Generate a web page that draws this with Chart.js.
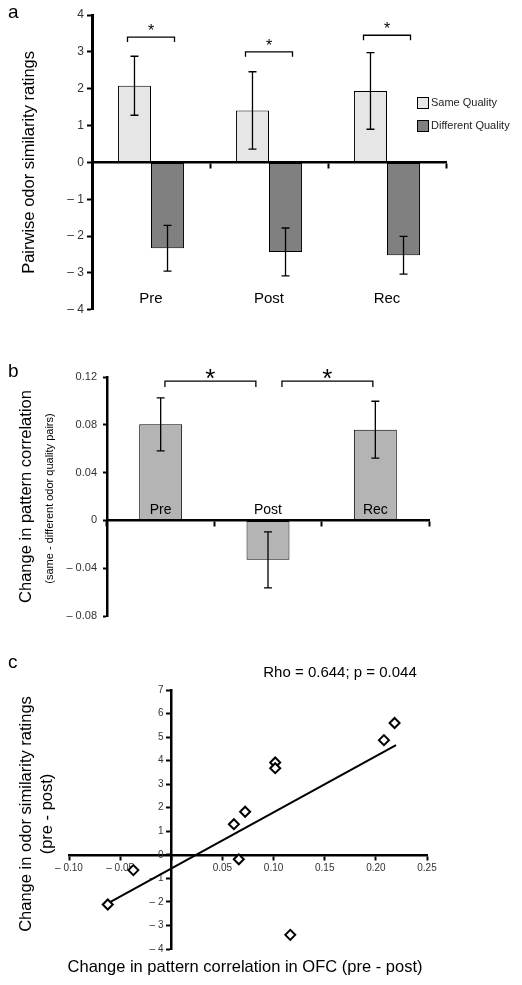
<!DOCTYPE html>
<html>
<head>
<meta charset="utf-8">
<script src="https://cdn.jsdelivr.net/npm/chart.js@4.4.1/dist/chart.umd.min.js"></script>
<style>
  body { margin: 0; background: #fff; }
  canvas { position: absolute; left: 0; }
</style>
</head>
<body>
<canvas id="chart-a" width="522" height="320" style="top:0"></canvas>
<canvas id="chart-b" width="522" height="300" style="top:330px"></canvas>
<canvas id="chart-c" width="522" height="355" style="top:630px"></canvas>
<script>
// panel a - similarity ratings
var groupsA = ["Pre", "Post", "Rec"];
var sameA = [2.08, 1.41, 1.94];
var sameErrA = [0.80, 1.05, 1.04];
var diffA = [-2.33, -2.43, -2.52];
var diffErrA = [0.62, 0.65, 0.51];
var sigA = [3.4, 3.0, 3.45];

// panel b - pattern correlation
var groupsB = ["Pre", "Post", "Rec"];
var corrB = [0.0804, -0.033, 0.0759];
var corrErrB = [0.0222, 0.0234, 0.0238];

// panel c - scatter
var ofcX = [-0.0621, -0.0371, 0.0612, 0.0722, 0.066, 0.1016, 0.1016, 0.1163, 0.2079, 0.2183];
var ratingY = [-2.11, -0.65, 1.30, 1.83, -0.19, 3.92, 3.68, -3.40, 4.87, 5.60];
var fitX = [-0.0621, 0.2197];
var fitY = [-2.06, 4.66];

Chart.defaults.font.family = "'Liberation Sans', Arial, sans-serif";
Chart.defaults.color = "#333";

function fmt(v, d) {
  if (Math.abs(v) < 1e-9) return "0";
  var s = Math.abs(v).toFixed(d);
  return v < 0 ? "\u2013 " + s : s;
}

function text(ctx, str, x, y, size, opts) {
  opts = opts || {};
  ctx.save();
  ctx.font = size + "px 'Liberation Sans', Arial, sans-serif";
  ctx.fillStyle = opts.color || "#000";
  ctx.textAlign = opts.align || "center";
  ctx.textBaseline = opts.baseline || "middle";
  ctx.translate(x, y);
  if (opts.rotate) ctx.rotate(-Math.PI / 2);
  ctx.fillText(str, 0, 0);
  ctx.restore();
}

function bracket(ctx, x1, x2, y, drop) {
  ctx.beginPath();
  ctx.moveTo(x1, y + drop);
  ctx.lineTo(x1, y);
  ctx.lineTo(x2, y);
  ctx.lineTo(x2, y + drop);
  ctx.stroke();
}

function errorBars(errs) {
  return {
    id: "errorBars",
    afterDatasetsDraw: function (chart) {
      var ctx = chart.ctx, y = chart.scales.y;
      ctx.save();
      ctx.strokeStyle = "#000";
      ctx.lineWidth = 1.3;
      chart.data.datasets.forEach(function (ds, di) {
        var meta = chart.getDatasetMeta(di);
        meta.data.forEach(function (bar, i) {
          var v = ds.data[i], e = errs[di][i];
          var top = y.getPixelForValue(v + e), bot = y.getPixelForValue(v - e);
          ctx.beginPath();
          ctx.moveTo(bar.x, top); ctx.lineTo(bar.x, bot);
          ctx.moveTo(bar.x - 4, top); ctx.lineTo(bar.x + 4, top);
          ctx.moveTo(bar.x - 4, bot); ctx.lineTo(bar.x + 4, bot);
          ctx.stroke();
        });
      });
      ctx.restore();
    }
  };
}

var ctx = document.getElementById("chart-a").getContext("2d");
var chartA = new Chart(ctx, {
  type: "bar",
  data: {
    labels: groupsA,
    datasets: [
      {
        label: "Same Quality",
        data: sameA,
        backgroundColor: "#e6e6e6",
        borderColor: "#000",
        borderWidth: 1,
        borderSkipped: false
      },
      {
        label: "Different Quality",
        data: diffA,
        backgroundColor: "#808080",
        borderColor: "#000",
        borderWidth: 1,
        borderSkipped: false
      }
    ]
  },
  options: {
    responsive: false,
    animation: false,
    layout: { padding: { left: 0, top: 15, right: 76, bottom: 7 } },
    plugins: { legend: { display: false }, tooltip: { enabled: false } },
    categoryPercentage: 0.56,
    barPercentage: 1,
    scales: {
      x: {
        type: "category",
        position: { y: 0 },
        offset: true,
        afterFit: function (s) { s.height = 0; },
        ticks: { display: false },
        grid: { offset: true, drawOnChartArea: false, tickLength: 5, tickWidth: 2, tickColor: "#000" },
        border: { color: "#000", width: 2.5 }
      },
      y: {
        min: -4,
        max: 4,
        afterFit: function (s) { s.width = 92; },
        ticks: { stepSize: 1, padding: 3, font: { size: 12 }, callback: function (v) { return fmt(v, 0); } },
        grid: { drawOnChartArea: false, tickLength: 5, tickWidth: 2, tickColor: "#000" },
        border: { color: "#000", width: 3 },
        title: {
          display: true,
          text: "Pairwise odor similarity ratings",
          color: "#000",
          font: { size: 16.5 },
          padding: { top: 20, bottom: 0 }
        }
      }
    }
  },
  plugins: [errorBars([sameErrA, diffErrA]), {
    id: "notesA",
    afterDraw: function (chart) {
      var c = chart.ctx, x = chart.scales.x, y = chart.scales.y;
      c.save();
      c.strokeStyle = "#000";
      c.lineWidth = 1.3;
      groupsA.forEach(function (g, i) {
        var cx = x.getPixelForValue(i);
        text(c, g, cx, y.getPixelForValue(-3.7), 15);
        var by = y.getPixelForValue(sigA[i]);
        bracket(c, cx - 23.5, cx + 23.5, by, 5);
        text(c, "*", cx, by - 1, 16, { baseline: "alphabetic" });
      });
      // legend
      chart.data.datasets.forEach(function (ds, i) {
        var ly = 97 + i * 23;
        c.fillStyle = ds.backgroundColor;
        c.fillRect(417, ly, 11, 11);
        c.lineWidth = 1;
        c.strokeRect(417.5, ly + 0.5, 11, 11);
        text(c, ds.label, 431, ly + 6, 11, { align: "left", color: "#222" });
      });
      c.restore();
      text(c, "a", 8, 13, 19, { align: "left" });
    }
  }]
});

var ctx = document.getElementById("chart-b").getContext("2d");
var chartB = new Chart(ctx, {
  type: "bar",
  data: {
    labels: groupsB,
    datasets: [
      {
        label: "Change in pattern correlation",
        data: corrB,
        backgroundColor: "#b4b4b4",
        borderColor: "#000",
        borderWidth: 1,
        borderSkipped: false
      }
    ]
  },
  options: {
    responsive: false,
    animation: false,
    layout: { padding: { left: 0, top: 47, right: 93, bottom: 14 } },
    plugins: { legend: { display: false }, tooltip: { enabled: false } },
    categoryPercentage: 0.4,
    barPercentage: 1,
    scales: {
      x: {
        type: "category",
        position: { y: 0 },
        offset: true,
        afterFit: function (s) { s.height = 0; },
        ticks: { display: false },
        grid: { offset: true, drawOnChartArea: false, tickLength: 5, tickWidth: 2, tickColor: "#000" },
        border: { color: "#000", width: 2.5 }
      },
      y: {
        min: -0.08,
        max: 0.12,
        afterFit: function (s) { s.width = 107; },
        ticks: { stepSize: 0.04, padding: 6, font: { size: 11 }, callback: function (v) { return fmt(v, 2); } },
        grid: { drawOnChartArea: false, tickLength: 4, tickWidth: 2, tickColor: "#000" },
        border: { color: "#000", width: 2.5 },
        title: {
          display: true,
          text: "Change in pattern correlation",
          color: "#000",
          font: { size: 16.5 },
          padding: { top: 17, bottom: 0 }
        }
      }
    }
  },
  plugins: [errorBars([corrErrB]), {
    id: "notesB",
    afterDraw: function (chart) {
      var c = chart.ctx, x = chart.scales.x, y = chart.scales.y;
      var zero = y.getPixelForValue(0);
      groupsB.forEach(function (g, i) {
        text(c, g, x.getPixelForValue(i), zero - 10, 14);
      });
      c.save();
      c.strokeStyle = "#000";
      c.lineWidth = 1.3;
      var by = y.getPixelForValue(0.1166);
      [[0.04, 0.887], [1.13, 1.977]].forEach(function (b) {
        var x1 = x.getPixelForValue(b[0]), x2 = x.getPixelForValue(b[1]);
        bracket(c, x1, x2, by, 6);
        text(c, "*", (x1 + x2) / 2, by + 6, 26, { baseline: "alphabetic" });
      });
      c.restore();
      var mid = (chart.chartArea.top + chart.chartArea.bottom) / 2;
      text(c, "(same - different odor quality pairs)", 50, mid + 2, 11, { rotate: true });
      text(c, "b", 8, 42, 19, { align: "left" });
    }
  }]
});

var ctx = document.getElementById("chart-c").getContext("2d");
var chartC = new Chart(ctx, {
  type: "scatter",
  data: {
    datasets: [
      {
        label: "subjects",
        data: ofcX.map(function (v, i) { return { x: v, y: ratingY[i] }; }),
        pointStyle: "rectRot",
        pointRadius: 5,
        pointBackgroundColor: "#fff",
        pointBorderColor: "#000",
        pointBorderWidth: 2
      },
      {
        type: "line",
        label: "fit",
        data: fitX.map(function (v, i) { return { x: v, y: fitY[i] }; }),
        borderColor: "#000",
        borderWidth: 2,
        pointRadius: 0,
        fill: false
      }
    ]
  },
  options: {
    responsive: false,
    animation: false,
    layout: { padding: { left: 69, top: 60, right: 95, bottom: 36 } },
    plugins: { legend: { display: false }, tooltip: { enabled: false } },
    scales: {
      x: {
        type: "linear",
        position: { y: 0 },
        min: -0.1,
        max: 0.25,
        afterFit: function (s) { s.height = 0; },
        ticks: { stepSize: 0.05, padding: 3, font: { size: 10 }, callback: function (v) { return Math.abs(v) < 1e-9 ? "" : fmt(v, 2); } },
        grid: { drawOnChartArea: false, tickLength: 4, tickWidth: 2, tickColor: "#000" },
        border: { color: "#000", width: 2.5 }
      },
      y: {
        type: "linear",
        position: { x: 0 },
        min: -4,
        max: 7,
        afterFit: function (s) { s.width = 0; },
        // labels sit right on the axis for object positions, pad with an en space
        ticks: { stepSize: 1, font: { size: 10 }, callback: function (v) { return fmt(v, 0) + "\u2002 "; } },
        grid: { drawOnChartArea: false, tickLength: 4, tickWidth: 2, tickColor: "#000" },
        border: { color: "#000", width: 2.5 }
      }
    }
  },
  plugins: [{
    id: "notesC",
    afterDraw: function (chart) {
      var c = chart.ctx;
      text(c, "c", 8, 33, 19, { align: "left" });
      text(c, "Rho = 0.644; p = 0.044", 340, 43, 15);
      text(c, "Change in odor similarity ratings", 26, 184, 16.5, { rotate: true });
      text(c, "(pre - post)", 47, 184, 16.5, { rotate: true });
      text(c, "Change in pattern correlation in OFC (pre - post)", 245, 337, 16.5);
    }
  }]
});
</script>
</body>
</html>
